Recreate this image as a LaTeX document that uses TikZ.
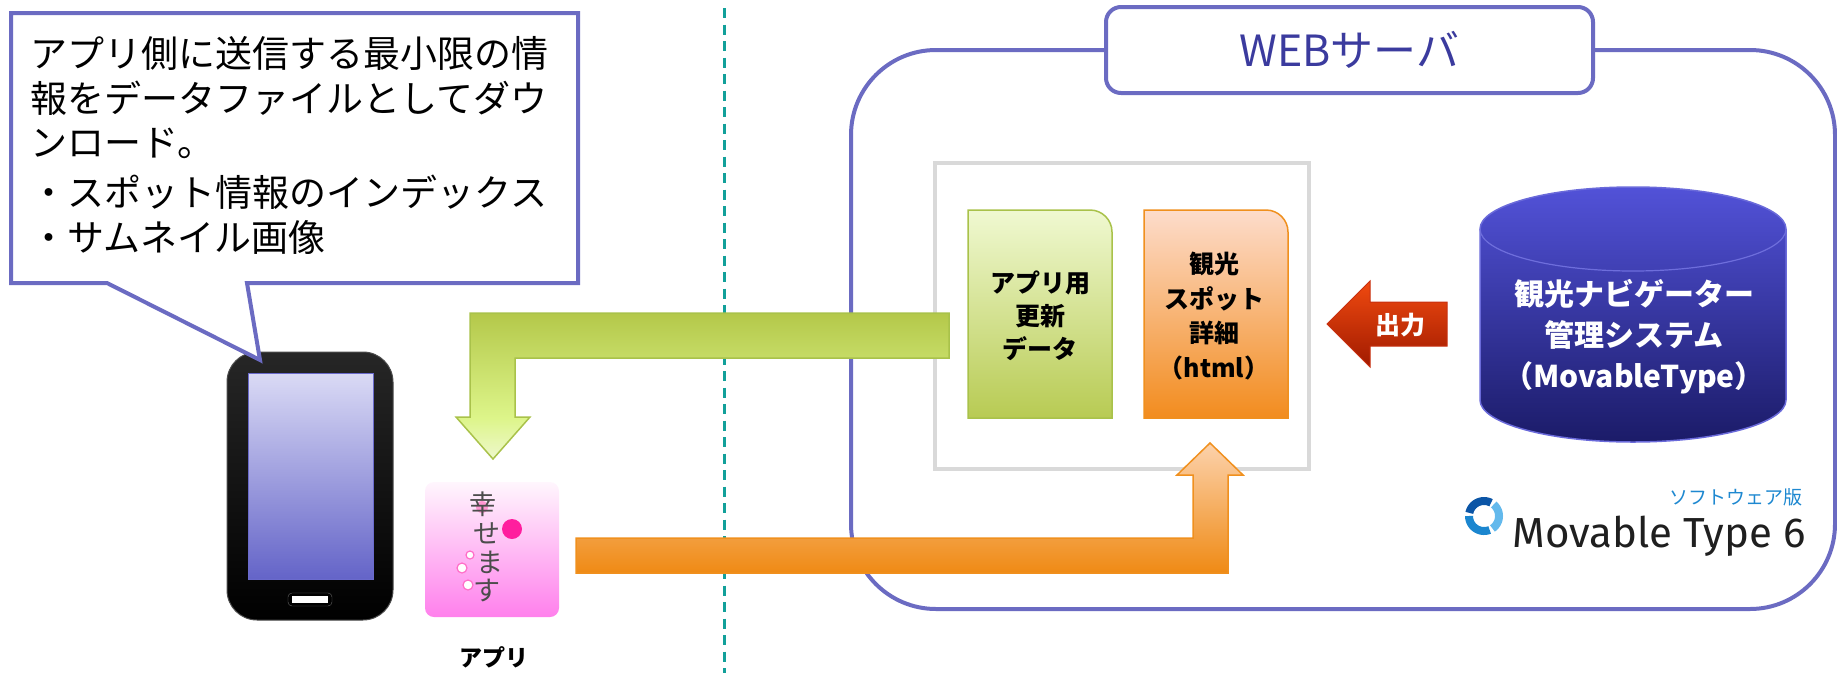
\documentclass[tikz,border=0pt]{standalone}
\usepackage{fontspec}
\setmainfont{Noto Sans CJK JP}
\newfontfamily\logofont{Fira Sans}
\definecolor{frameblue}{HTML}{6B6BC2}
\definecolor{titleblue}{HTML}{3B3B9E}
\definecolor{dashteal}{HTML}{12A09A}
\definecolor{boxgray}{HTML}{D9D9D9}
\definecolor{gTop}{HTML}{B4C84A}
\definecolor{gMid}{HTML}{DDF58A}
\definecolor{gTip}{HTML}{EEF8CC}
\definecolor{gLine}{HTML}{A9C24A}
\definecolor{oLine}{HTML}{F0901E}
\definecolor{oDocTop}{HTML}{FDDCCB}
\definecolor{oDocMid}{HTML}{F9AA6A}
\definecolor{oDocBot}{HTML}{F28C1E}
\definecolor{oArrTop}{HTML}{FCD2AC}
\definecolor{oArrBot}{HTML}{EF8A14}
\definecolor{rTop}{HTML}{F04A10}
\definecolor{rBot}{HTML}{A01A00}
\definecolor{rLine}{HTML}{C83010}
\definecolor{dbTop}{HTML}{5252D8}
\definecolor{dbBot}{HTML}{1B1B68}
\definecolor{dbLine}{HTML}{6A6ADA}
\definecolor{dbRim}{HTML}{6E6EDC}
\definecolor{scrTop}{HTML}{DADAF5}
\definecolor{scrMid}{HTML}{8C8CF0}
\definecolor{scrBot}{HTML}{6464C8}
\definecolor{scrLine}{HTML}{6A6ACC}
\definecolor{iconTop}{HTML}{FFF6FD}
\definecolor{iconBot}{HTML}{FF80EC}
\definecolor{heart}{HTML}{FF96D2}
\definecolor{blossom}{HTML}{FF1E9E}
\definecolor{petal}{HTML}{FF6EC8}
\definecolor{mtblue}{HTML}{1E88D0}
\definecolor{mtA}{HTML}{0B55A6}
\definecolor{mtB}{HTML}{1B86CF}
\definecolor{mtC}{HTML}{63B9EC}
\pgfdeclareverticalshading{greenarrow}{100bp}{color(0bp)=(gTip); color(25bp)=(gTip); color(39bp)=(gMid); color(75bp)=(gTop); color(100bp)=(gTop)}
\begin{document}
\begin{tikzpicture}[x=1pt,y=-1pt,
  frame/.style={draw=frameblue, line width=4pt},
  calltext/.style={anchor=west, inner sep=0pt, font=\fontsize{37}{45}\selectfont},
  doclabel/.style={align=center, inner sep=0pt, font=\fontsize{25}{33}\selectfont\bfseries},
  dblabel/.style={align=center, inner sep=0pt, text=white, font=\fontsize{30}{41}\selectfont\bfseries},
  iconchar/.style={inner sep=0pt, text=black!70, font=\fontsize{27}{27}\selectfont}]
\useasboundingbox (0,0) rectangle (1837,673);

% dividing line between device side and server side
\draw[dashteal, line width=3pt, dash pattern=on 10pt off 6.5pt] (724,8) -- (724,673);

% web server frame and its title tab
\draw[frame, rounded corners=85pt] (851,50) rectangle (1835,609);
\node[frame, fill=white, rounded corners=15pt, minimum width=487pt, minimum height=86pt,
      text=titleblue, font=\fontsize{43}{43}\selectfont] (web) at (1349.5,50) {WEBサーバ};

% container holding the generated files
\draw[draw=boxgray, line width=4pt, fill=white] (935,163) rectangle (1309,469);

% app update data file
\shade[top color=gTip!90!white, middle color=gMid, bottom color=gTop!95!white, draw=gLine, line width=1.5pt]
  (968,418) -- (968,210) [rounded corners=22pt] -- (1112,210) [sharp corners] -- (1112,418) -- cycle;
\node[doclabel] (appdata) at (1040,316) {アプリ用\\更新\\データ};

% sightseeing spot detail file
\shade[top color=oDocTop, middle color=oDocMid, bottom color=oDocBot, draw=oLine, line width=1.5pt]
  (1144,418) -- (1144,210) [rounded corners=22pt] -- (1288,210) [sharp corners] -- (1288,418) -- cycle;
\node[doclabel, font=\fontsize{25}{34.5}\selectfont\bfseries] (spot) at (1214,316) {観光\\スポット\\詳細\\（html）};

% output arrow from the CMS
\shade[top color=rTop, bottom color=rBot, draw=rLine, line width=1pt, line join=miter]
  (1327,324) -- (1370,281) -- (1370,302) -- (1447,302) -- (1447,346) -- (1370,346) -- (1370,367) -- cycle;
\node[inner sep=0pt, text=white, font=\fontsize{25}{25}\selectfont\bfseries] (out) at (1400,325) {出力};

% CMS database cylinder
\shade[top color=dbTop, bottom color=dbBot, draw=dbLine, line width=1.5pt]
  (1480,229) -- (1480,400) arc[start angle=180, end angle=0, x radius=153, y radius=42]
  -- (1786,229) arc[start angle=0, end angle=-180, x radius=153, y radius=42] -- cycle;
\draw[dbRim, line width=1.2pt]
  (1480,229) arc[start angle=180, end angle=0, x radius=153, y radius=42];
\node[dblabel] (cms) at (1634,337) {観光ナビゲーター\\管理システム\\（MovableType）};

% Movable Type 6 logo
\foreach \a/\b/\c in {62/168/mtA, 180/292/mtB, 304/410/mtC}
  \draw[\c, line width=8pt] plot[domain=\a:\b, samples=20] ({1484+15*cos(\x)},{516-15*sin(\x)});
\node[anchor=east, inner sep=0pt, text=mtblue, font=\fontsize{19}{19}\selectfont] (edition) at (1803,497) {ソフトウェア版};
\node[anchor=base east, inner sep=0pt, text=black!88, font=\logofont\fontsize{42}{42}\selectfont] (mt) at (1806,547) {Movable Type 6};

% smartphone
\shade[top color=black!85, bottom color=black, draw=black!70, line width=1pt, rounded corners=30pt]
  (227,352) rectangle (393,620);
\shade[top color=scrTop, middle color=scrMid, bottom color=scrBot, draw=scrLine, line width=1pt]
  (248,373) rectangle (373,579);
\draw[fill=black, draw=black!60, rounded corners=4pt] (288,593) rectangle (332,606);
\fill[white] (292,596) rectangle (328,603);

% callout describing the download
\draw[frame, fill=white, line join=miter]
  (11,13) -- (578,13) -- (578,283) -- (247,283) -- (260,360) -- (107,283) -- (11,283) -- cycle;
\node[calltext] (c1) at (30,53) {アプリ側に送信する最小限の情};
\node[calltext] (c2) at (30,98) {報をデータファイルとしてダウ};
\node[calltext] (c3) at (30,143) {ンロード。};
\node[calltext] (c4) at (30,192) {・スポット情報のインデックス};
\node[calltext] (c5) at (30,237) {・サムネイル画像};

% app icon
\shade[top color=iconTop, bottom color=iconBot, rounded corners=9pt]
  (425,482) rectangle (559,617);
\fill[heart] (482,507) circle[radius=6];
\node[iconchar] (k1) at (483,504) {幸};
\node[iconchar] (k2) at (487,533) {せ};
\node[iconchar] (k3) at (490,562) {ま};
\node[iconchar] (k4) at (487,591) {す};
\fill[blossom] (512,529) circle[radius=10];
\foreach \p/\r in {{(470,555)}/4, {(462,568)}/5, {(468,585)}/5}
  \draw[petal, line width=1.2pt, fill=white] \p circle[radius=\r];
\node[inner sep=0pt, font=\fontsize{23}{23}\selectfont\bfseries] (applabel) at (494,657) {アプリ};

% download arrow: update data to the app
\shade[shading=greenarrow, draw=gLine, line width=1.5pt, line join=miter]
  (949,313) -- (470,313) -- (470,417) -- (456,417) -- (493,459) -- (530,417) -- (515,417) -- (515,358) -- (949,358) -- cycle;

% request arrow: app to the spot detail page
\shade[top color=oArrTop, bottom color=oArrBot, draw=oLine, line width=1.5pt, line join=miter]
  (576,538) -- (1193,538) -- (1193,475) -- (1177,475) -- (1210,443) -- (1243,475) -- (1228,475) -- (1228,573) -- (576,573) -- cycle;
\end{tikzpicture}
\end{document}
